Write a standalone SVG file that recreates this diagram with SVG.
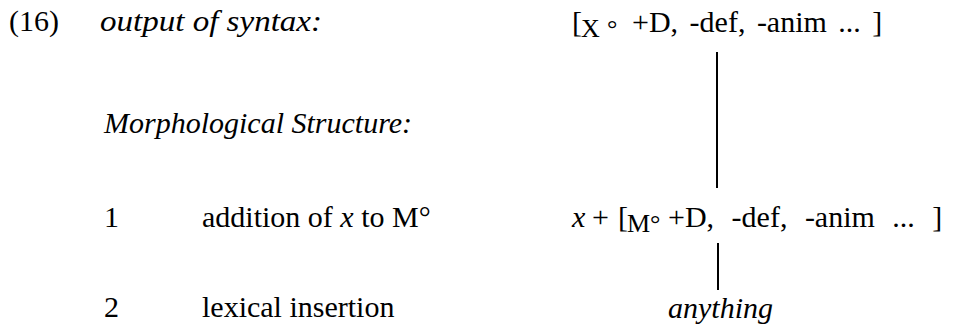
<svg xmlns="http://www.w3.org/2000/svg" width="954" height="329" viewBox="0 0 954 329">
<style>
text{font-family:"Liberation Serif","Times New Roman",serif;font-size:30px;fill:#000}
.it{font-style:italic}
.sm{font-size:26px}
.conn line{stroke:#000;stroke-width:2}
</style>
<rect width="954" height="329" fill="#fff"/>
<g id="label-16"><text x="9" y="31">(16)</text></g>
<g id="output-label"><text class="it" x="100" y="31" textLength="222" lengthAdjust="spacingAndGlyphs">output of syntax:</text></g>
<g id="syntax-output"><text x="572" y="32">[<tspan class="sm" x="581" y="37">X</tspan><tspan class="sm" x="607" y="37">°</tspan><tspan x="632" y="32" word-spacing="4">+D, -def, -anim ... ]</tspan></text></g>
<g id="morph-label"><text class="it" x="104" y="133">Morphological Structure:</text></g>
<g id="step1"><text x="104" y="227">1</text><text x="202" y="227">addition of <tspan class="it">x</tspan> to M°</text></g>
<g id="step1-result"><text x="572" y="227"><tspan class="it">x</tspan><tspan x="592">+</tspan><tspan x="618">[</tspan><tspan class="sm" x="627" y="232">M</tspan><tspan class="sm" x="650" y="232">°</tspan><tspan x="668" y="227" word-spacing="10">+D, -def, -anim ... ]</tspan></text></g>
<g id="step2"><text x="104" y="317">2</text><text x="202" y="317">lexical insertion</text></g>
<g id="anything"><text class="it" x="668" y="318">anything</text></g>
<g id="connectors" class="conn">
<line x1="717" y1="52" x2="717" y2="188"/>
<line x1="718" y1="243" x2="718" y2="290"/>
</g>
</svg>
